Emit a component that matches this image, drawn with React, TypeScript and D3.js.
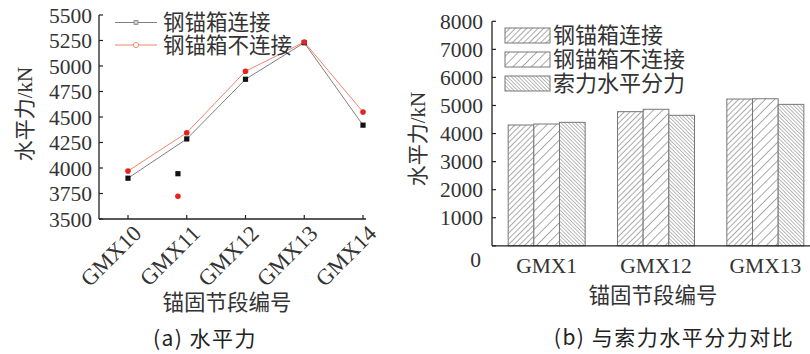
import React from "react";
import * as d3 from "d3";

// Panel (a): horizontal force per anchorage segment
const segmentsA = ["GMX10", "GMX11", "GMX12", "GMX13", "GMX14"];
const connectedA = [3900, 4285, 4870, 5228, 4420];
const unconnectedA = [3970, 4346, 4948, 5235, 4549];
// stray points plotted beside GMX11 (x given as category index)
const strayConnected = [{ idx: 0.85, value: 3944 }];
const strayUnconnected = [{ idx: 0.85, value: 3722 }];
const ticksA = [3500, 3750, 4000, 4250, 4500, 4750, 5000, 5250, 5500];

// Panel (b): comparison with horizontal component of cable force
const segmentsB = ["GMX1", "GMX12", "GMX13"];
const connectedB = [4305, 4780, 5230];
const unconnectedB = [4340, 4865, 5240];
const cableB = [4400, 4650, 5040];
const ticksB = [0, 1000, 2000, 3000, 4000, 5000, 6000, 7000, 8000];
const seriesNamesB = ["钢锚箱连接", "钢锚箱不连接", "索力水平分力"];

const serif = "'Liberation Serif', 'Noto Sans CJK SC', serif";
const cjk = "'Noto Sans CJK SC', sans-serif";

export default function App() {
  // ---- panel (a) scales
  const xA = d3.scaleLinear().domain([0, 4]).range([128, 363]);
  const yA = d3.scaleLinear().domain([3500, 5500]).range([219, 15]);
  const lineA = d3
    .line<number>()
    .x((_, i) => xA(i))
    .y((d) => yA(d));

  // ---- panel (b) scales
  const xB = d3.scaleBand<string>().domain(segmentsB).range([492, 820]);
  const groupW = 77;
  const inner = d3
    .scaleBand<number>()
    .domain([0, 1, 2])
    .range([0, groupW]);
  const yB = d3.scaleLinear().domain([0, 8000]).range([245.8, 21.3]);
  const seriesB = [connectedB, unconnectedB, cableB];
  const fills = ["url(#hatchDense)", "url(#hatchSparse)", "url(#hatchBack)"];

  return (
    <svg width={810} height={354} style={{ position: "absolute", left: 0, top: 0, background: "#fff" }}>
      <defs>
        <pattern id="hatchDense" patternUnits="userSpaceOnUse" width={4} height={4} patternTransform="rotate(45)">
          <rect width={4} height={4} fill="#fff" />
          <line x1={0} y1={0} x2={0} y2={4} stroke="#555" strokeWidth={1} />
        </pattern>
        <pattern id="hatchSparse" patternUnits="userSpaceOnUse" width={6.5} height={6.5} patternTransform="rotate(45)">
          <rect width={6.5} height={6.5} fill="#fff" />
          <line x1={0} y1={0} x2={0} y2={6.5} stroke="#555" strokeWidth={1} />
        </pattern>
        <pattern id="hatchBack" patternUnits="userSpaceOnUse" width={2.6} height={2.6} patternTransform="rotate(-45)">
          <rect width={2.6} height={2.6} fill="#fff" />
          <line x1={0} y1={0} x2={0} y2={2.6} stroke="#666" strokeWidth={0.9} />
        </pattern>
      </defs>

      {/* ================= panel (a) ================= */}
      <g>
        {/* axes */}
        <line x1={99} x2={99} y1={yA(5500)} y2={219} stroke="#222" strokeWidth={1.3} />
        <line x1={99} x2={366} y1={219} y2={219} stroke="#222" strokeWidth={1.3} />
        {ticksA.map((t) => (
          <g key={t}>
            <line x1={99} x2={103} y1={yA(t)} y2={yA(t)} stroke="#222" strokeWidth={1.2} />
            <text x={92} y={yA(t)} dy="0.35em" textAnchor="end" fontFamily={serif} fontSize={21.5} fill="#333">
              {t}
            </text>
          </g>
        ))}
        {segmentsA.map((s, i) => (
          <g key={s}>
            <line x1={xA(i)} x2={xA(i)} y1={219} y2={215} stroke="#222" strokeWidth={1.2} />
            <text
              transform={`translate(${xA(i) + 6},${226}) rotate(-45)`}
              textAnchor="end"
              dy="0.55em"
              fontFamily={serif}
              fontSize={22.5}
              fill="#333"
            >
              {s}
            </text>
          </g>
        ))}
        <text
          transform={`translate(25,114) rotate(-90)`}
          textAnchor="middle"
          dy="0.35em"
          fontFamily={serif}
          fontSize={21}
          fill="#333"
        >
          水平力/kN
        </text>
        <text x={227} y={302} dy="0.35em" textAnchor="middle" fontFamily={serif} fontSize={21.5} fill="#333">
          锚固节段编号
        </text>

        {/* lines */}
        <path d={lineA(connectedA) ?? ""} fill="none" stroke="#808080" strokeWidth={1} />
        <path d={lineA(unconnectedA) ?? ""} fill="none" stroke="#f2846a" strokeWidth={1} />
        {connectedA.map((v, i) => (
          <rect key={i} x={xA(i) - 2.6} y={yA(v) - 2.6} width={5.2} height={5.2} fill="#111" />
        ))}
        {unconnectedA.map((v, i) => (
          <circle key={i} cx={xA(i)} cy={yA(v)} r={2.8} fill="#e8231f" />
        ))}
        {strayConnected.map((p, i) => (
          <rect key={i} x={xA(p.idx) - 2.6} y={yA(p.value) - 2.6} width={5.2} height={5.2} fill="#111" />
        ))}
        {strayUnconnected.map((p, i) => (
          <circle key={i} cx={xA(p.idx)} cy={yA(p.value)} r={2.8} fill="#e8231f" />
        ))}

        {/* legend */}
        <line x1={115} x2={157} y1={22.5} y2={22.5} stroke="#808080" strokeWidth={1} />
        <rect x={134} y={20.5} width={4} height={4} fill="#ccc" stroke="#888" strokeWidth={0.8} />
        <text x={163} y={22} dy="0.35em" fontFamily={serif} fontSize={21.5} fill="#333">
          钢锚箱连接
        </text>
        <line x1={115} x2={157} y1={45} y2={45} stroke="#f2846a" strokeWidth={1} />
        <circle cx={136} cy={45} r={2.6} fill="#fff" stroke="#f2846a" strokeWidth={0.9} />
        <text x={163} y={45} dy="0.35em" fontFamily={serif} fontSize={21.5} fill="#333">
          钢锚箱不连接
        </text>

        <text x={205} y={339} dy="0.35em" textAnchor="middle" fontFamily={cjk} fontSize={21} letterSpacing={1.5} fill="#222">
          (a) 水平力
        </text>
      </g>

      {/* ================= panel (b) ================= */}
      <g>
        {/* bars */}
        {segmentsB.map((s, gi) => {
          const gx = (xB(s) ?? 0) + (xB.bandwidth() - groupW) / 2;
          return seriesB.map((ser, si) => (
            <rect
              key={`${s}-${si}`}
              x={gx + (inner(si) ?? 0)}
              y={yB(ser[gi])}
              width={inner.bandwidth()}
              height={yB(0) - yB(ser[gi])}
              fill={fills[si]}
              stroke="#777"
              strokeWidth={1}
            />
          ));
        })}

        <line x1={492} x2={492} y1={yB(8000)} y2={yB(0)} stroke="#222" strokeWidth={1.3} />
        <line x1={492} x2={810} y1={yB(0)} y2={yB(0)} stroke="#222" strokeWidth={1.3} />
        {ticksB.map((t) => (
          <g key={t}>
            <line x1={492} x2={496} y1={yB(t)} y2={yB(t)} stroke="#222" strokeWidth={1.2} />
            <text
              x={t === 0 ? 481 : 483}
              y={t === 0 ? yB(t) + 14 : yB(t)}
              dy="0.35em"
              textAnchor="end"
              fontFamily={serif}
              fontSize={21.5}
              fill="#333"
            >
              {t}
            </text>
          </g>
        ))}
        {segmentsB.map((s) => (
          <text
            key={s}
            x={(xB(s) ?? 0) + xB.bandwidth() / 2}
            y={265}
            dy="0.35em"
            textAnchor="middle"
            fontFamily={serif}
            fontSize={21.5}
            fill="#333"
          >
            {s}
          </text>
        ))}
        <text
          transform={`translate(418,139) rotate(-90)`}
          textAnchor="middle"
          dy="0.35em"
          fontFamily={serif}
          fontSize={21}
          fill="#333"
        >
          水平力/kN
        </text>
        <text x={653} y={295} dy="0.35em" textAnchor="middle" fontFamily={serif} fontSize={21.5} fill="#333">
          锚固节段编号
        </text>

        {/* legend */}
        {seriesNamesB.map((name, i) => (
          <g key={name}>
            <rect x={505} y={28 + i * 24} width={45} height={15} fill={fills[i]} stroke="#777" strokeWidth={1} />
            <text x={553} y={35.5 + i * 24} dy="0.35em" fontFamily={serif} fontSize={22} fill="#333">
              {name}
            </text>
          </g>
        ))}

        <text x={674} y={338} dy="0.35em" textAnchor="middle" fontFamily={cjk} fontSize={21} letterSpacing={1.5} fill="#222">
          (b) 与索力水平分力对比
        </text>
      </g>
    </svg>
  );
}
